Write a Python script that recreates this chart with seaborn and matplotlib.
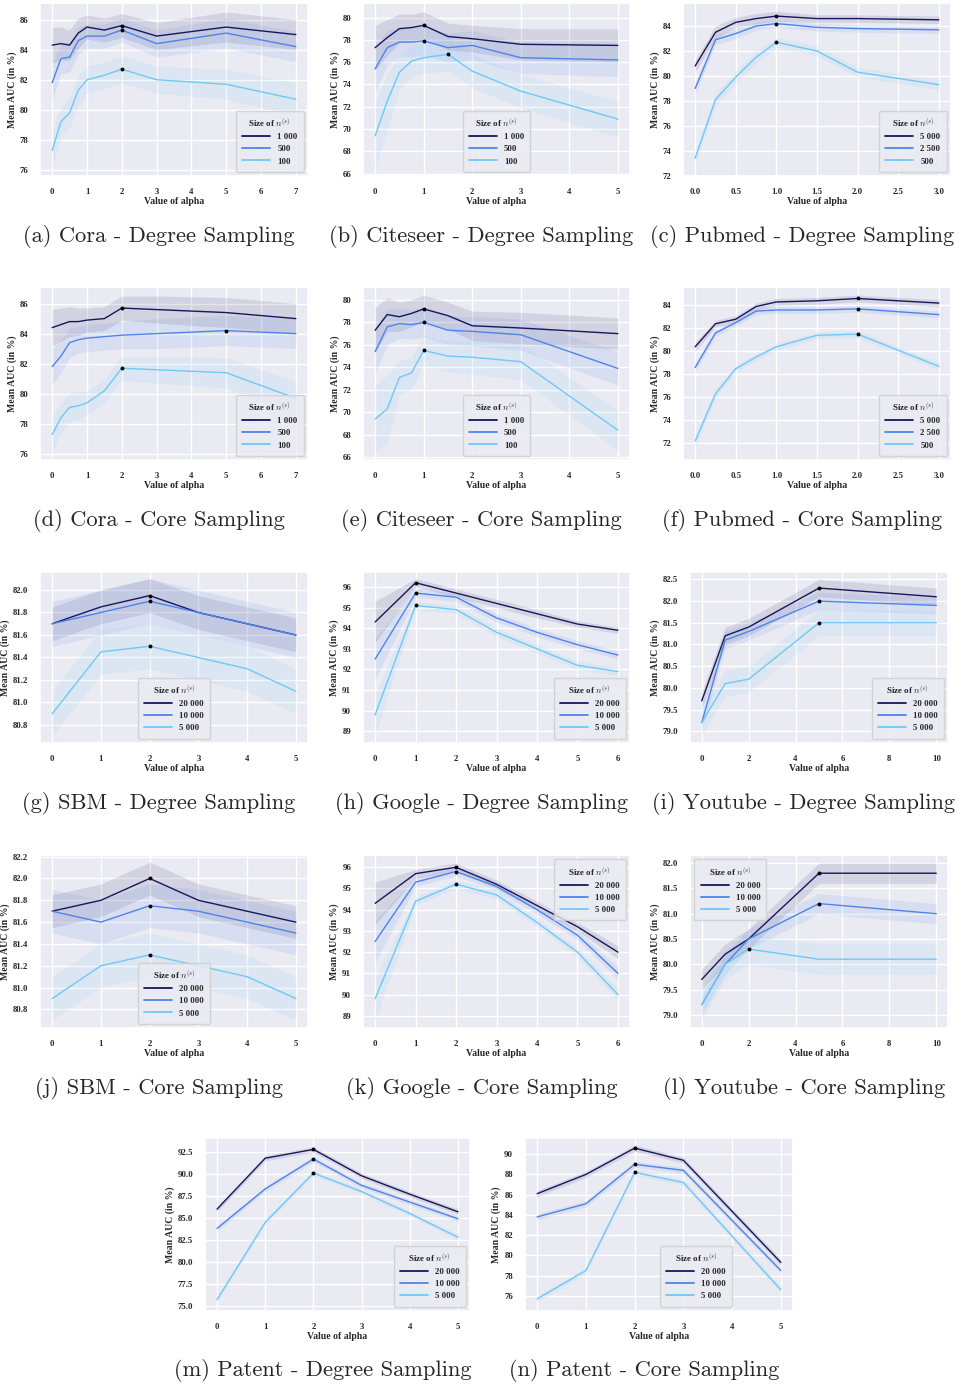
import matplotlib
matplotlib.use('Agg')
from matplotlib import pyplot as plt
from matplotlib.ticker import MultipleLocator, FormatStrFormatter
import seaborn as sns
import pandas as pd

# --- data ---------------------------------------------------------------
sizes_small = ['1 000', '500', '100']
sizes_pubmed = ['5 000', '2 500', '500']
sizes_large = ['20 000', '10 000', '5 000']

cora_alpha = [0, 0.25, 0.5, 0.75, 1, 1.5, 2, 3, 5, 7]
citeseer_alpha = [0, 0.25, 0.5, 0.75, 1, 1.5, 2, 3, 5]
pubmed_alpha = [0, 0.25, 0.5, 0.75, 1, 1.5, 2, 3]
sbm_alpha = [0, 1, 2, 3, 4, 5]
google_alpha = [0, 1, 2, 3, 4, 5, 6]
youtube_alpha = [0, 1, 2, 5, 10]
patent_deg_alpha = [0, 1, 2, 3, 4, 5]
patent_core_alpha = [0, 1, 2, 3, 5]

cora_deg_auc = [[84.3, 84.4, 84.3, 85.1, 85.5, 85.3, 85.6, 84.9, 85.5, 85.0],
                [81.8, 83.4, 83.5, 84.6, 84.9, 84.9, 85.3, 84.4, 85.1, 84.2],
                [77.3, 79.2, 79.8, 81.3, 82.0, 82.3, 82.7, 82.0, 81.7, 80.7]]
cora_deg_band = [[1.2, 1.1, 1.0, 1.0, 0.8, 0.8, 0.8, 0.9, 1.0, 1.0],
                 [1.2, 1.0, 1.0, 0.9, 0.8, 0.8, 0.8, 0.9, 1.0, 1.0],
                 [1.2, 1.0, 1.0, 1.0, 0.9, 0.9, 0.9, 0.9, 1.0, 1.1]]

citeseer_deg_auc = [[77.3, 78.2, 79.0, 79.1, 79.3, 78.3, 78.1, 77.6, 77.5],
                    [75.4, 77.3, 77.8, 77.8, 77.9, 77.3, 77.5, 76.4, 76.2],
                    [69.4, 72.5, 75.1, 76.1, 76.4, 76.7, 75.2, 73.4, 70.9]]
citeseer_deg_band = [[2.0, 1.6, 1.3, 1.2, 1.2, 1.2, 1.2, 1.4, 1.5],
                     [2.0, 1.6, 1.3, 1.3, 1.3, 1.3, 1.3, 1.4, 1.5],
                     [3.0, 2.5, 1.5, 1.4, 1.4, 1.5, 1.5, 1.5, 1.6]]

pubmed_deg_auc = [[80.8, 83.5, 84.3, 84.6, 84.8, 84.6, 84.6, 84.5],
                  [79.0, 82.9, 83.4, 84.0, 84.2, 83.9, 83.8, 83.7],
                  [73.4, 78.1, 79.9, 81.5, 82.7, 82.0, 80.3, 79.3]]
pubmed_deg_band = [[0.5, 0.5, 0.4, 0.4, 0.4, 0.3, 0.3, 0.3],
                   [0.5, 0.4, 0.4, 0.3, 0.3, 0.3, 0.3, 0.3],
                   [0.5, 0.5, 0.5, 0.5, 0.4, 0.4, 0.4, 0.4]]

cora_core_auc = [[84.4, 84.6, 84.8, 84.8, 84.9, 85.0, 85.7, 85.6, 85.4, 85.0],
                 [81.8, 82.5, 83.4, 83.6, 83.7, 83.8, 83.9, 84.0, 84.2, 84.0],
                 [77.3, 78.4, 79.1, 79.2, 79.4, 80.2, 81.7, 81.6, 81.4, 79.7]]
cora_core_band = [[1.2, 1.1, 1.0, 0.9, 0.8, 0.8, 0.8, 0.9, 1.0, 1.0],
                  [1.2, 1.1, 1.0, 0.9, 0.9, 0.9, 0.9, 1.0, 1.0, 1.0],
                  [1.2, 1.0, 1.0, 0.9, 0.8, 0.8, 0.8, 0.9, 1.0, 1.1]]

citeseer_core_auc = [[77.3, 78.7, 78.5, 78.8, 79.2, 78.6, 77.7, 77.5, 77.0],
                     [75.4, 77.6, 77.9, 77.8, 78.0, 77.3, 77.2, 76.9, 73.9],
                     [69.4, 70.3, 73.1, 73.5, 75.5, 75.0, 74.9, 74.5, 68.4]]
citeseer_core_band = [[2.0, 1.5, 1.3, 1.2, 1.2, 1.2, 1.3, 1.4, 1.4],
                      [2.0, 1.6, 1.3, 1.3, 1.3, 1.3, 1.3, 1.4, 1.5],
                      [3.0, 3.0, 1.5, 1.4, 1.3, 1.4, 1.5, 1.6, 1.8]]

pubmed_core_auc = [[80.4, 82.4, 82.8, 83.9, 84.3, 84.4, 84.6, 84.2],
                   [78.6, 81.6, 82.5, 83.5, 83.6, 83.6, 83.7, 83.2],
                   [72.2, 76.3, 78.5, 79.5, 80.4, 81.4, 81.5, 78.7]]
pubmed_core_band = [[0.4, 0.3, 0.3, 0.3, 0.3, 0.3, 0.3, 0.3],
                    [0.4, 0.3, 0.3, 0.3, 0.3, 0.3, 0.3, 0.3],
                    [0.6, 0.4, 0.3, 0.3, 0.3, 0.3, 0.3, 0.3]]

sbm_deg_auc = [[81.7, 81.85, 81.95, 81.8, 81.7, 81.6],
               [81.7, 81.8, 81.9, 81.8, 81.7, 81.6],
               [80.9, 81.45, 81.5, 81.4, 81.3, 81.1]]
sbm_deg_band = [[0.15, 0.15, 0.15, 0.15, 0.15, 0.15],
                [0.2, 0.2, 0.2, 0.2, 0.2, 0.2],
                [0.2, 0.2, 0.2, 0.2, 0.2, 0.2]]

google_deg_auc = [[94.3, 96.2, 95.7, 95.2, 94.7, 94.2, 93.9],
                  [92.5, 95.7, 95.5, 94.5, 93.8, 93.2, 92.7],
                  [89.8, 95.1, 94.9, 93.8, 93.0, 92.2, 91.9]]
google_deg_band = [[1.0, 0.2, 0.2, 0.2, 0.2, 0.15, 0.15],
                   [1.0, 0.2, 0.2, 0.2, 0.2, 0.2, 0.2],
                   [1.0, 0.2, 0.2, 0.2, 0.2, 0.2, 0.2]]

youtube_deg_auc = [[79.7, 81.2, 81.4, 82.3, 82.1],
                   [79.2, 81.1, 81.3, 82.0, 81.9],
                   [79.2, 80.1, 80.2, 81.5, 81.5]]
youtube_deg_band = [[0.2, 0.2, 0.2, 0.2, 0.2],
                    [0.2, 0.2, 0.2, 0.2, 0.2],
                    [0.3, 0.3, 0.3, 0.3, 0.3]]

sbm_core_auc = [[81.7, 81.8, 82.0, 81.8, 81.7, 81.6],
                [81.7, 81.6, 81.75, 81.7, 81.6, 81.5],
                [80.9, 81.2, 81.3, 81.2, 81.1, 80.9]]
sbm_core_band = [[0.15, 0.15, 0.15, 0.15, 0.15, 0.15],
                 [0.2, 0.2, 0.2, 0.2, 0.2, 0.2],
                 [0.2, 0.2, 0.2, 0.2, 0.2, 0.2]]

google_core_auc = [[94.3, 95.7, 96.0, 95.2, 94.2, 93.2, 92.0],
                   [92.5, 95.3, 95.8, 95.1, 94.0, 92.8, 91.0],
                   [89.8, 94.4, 95.2, 94.7, 93.4, 92.0, 90.0]]
google_core_band = [[1.0, 0.2, 0.2, 0.2, 0.2, 0.2, 0.3],
                    [1.0, 0.2, 0.2, 0.2, 0.2, 0.2, 0.3],
                    [1.0, 0.2, 0.2, 0.2, 0.2, 0.2, 0.3]]

youtube_core_auc = [[79.7, 80.2, 80.5, 81.8, 81.8],
                    [79.2, 80.0, 80.5, 81.2, 81.0],
                    [79.2, 80.0, 80.3, 80.1, 80.1]]
youtube_core_band = [[0.2, 0.2, 0.2, 0.2, 0.2],
                     [0.2, 0.2, 0.2, 0.2, 0.2],
                     [0.3, 0.3, 0.3, 0.3, 0.3]]

patent_deg_auc = [[86.0, 91.8, 92.8, 89.8, 87.7, 85.7],
                  [83.8, 88.3, 91.7, 88.7, 86.8, 84.9],
                  [75.7, 84.5, 90.1, 88.0, 85.5, 82.8]]
patent_deg_band = [[0.3] * 6, [0.3] * 6, [0.3] * 6]

patent_core_auc = [[86.1, 88.0, 90.6, 89.4, 79.3],
                   [83.8, 85.1, 89.0, 88.4, 78.5],
                   [75.7, 78.5, 88.2, 87.2, 76.6]]
patent_core_band = [[0.3] * 5, [0.3] * 5, [0.3] * 5]

captions = ['(a) Cora - Degree Sampling', '(b) Citeseer - Degree Sampling',
            '(c) Pubmed - Degree Sampling', '(d) Cora - Core Sampling',
            '(e) Citeseer - Core Sampling', '(f) Pubmed - Core Sampling',
            '(g) SBM - Degree Sampling', '(h) Google - Degree Sampling',
            '(i) Youtube - Degree Sampling', '(j) SBM - Core Sampling',
            '(k) Google - Core Sampling', '(l) Youtube - Core Sampling',
            '(m) Patent - Degree Sampling', '(n) Patent - Core Sampling']

# --- styling ----------------------------------------------------------------
sns.set_theme(style='darkgrid')
plt.rcParams['font.family'] = ['Liberation Serif', 'DejaVu Serif']
plt.rcParams['font.weight'] = 'bold'
plt.rcParams['mathtext.fontset'] = 'cm'
palette = ['#17175e', '#4f83ea', '#6fc8f6']

W, H = 959, 1386
fig = plt.figure(figsize=(W / 100, H / 100), dpi=100)


def box(x0, x1, y0, y1):
    return [x0 / W, 1 - y1 / H, (x1 - x0) / W, (y1 - y0) / H]


# (alpha, auc, band, sizes, axes box, ylim, ystep, xstep, yfmt, legend loc, legend anchor)
panels = [
    (cora_alpha, cora_deg_auc, cora_deg_band, sizes_small, box(40, 308, 3, 176), (75.6, 87.1), 2, 1, '%d', 'lower right', None),
    (citeseer_alpha, citeseer_deg_auc, citeseer_deg_band, sizes_small, box(363, 630, 3, 176), (65.8, 81.3), 2, 1, '%d', 'lower center', None),
    (pubmed_alpha, pubmed_deg_auc, pubmed_deg_band, sizes_pubmed, box(683, 951, 3, 176), (71.97, 85.85), 2, 0.5, '%d', 'lower right', None),
    (cora_alpha, cora_core_auc, cora_core_band, sizes_small, box(40, 308, 287, 460), (75.6, 87.1), 2, 1, '%d', 'lower right', None),
    (citeseer_alpha, citeseer_core_auc, citeseer_core_band, sizes_small, box(363, 630, 287, 460), (65.75, 81.15), 2, 1, '%d', 'lower center', None),
    (pubmed_alpha, pubmed_core_auc, pubmed_core_band, sizes_pubmed, box(683, 951, 287, 460), (70.55, 85.6), 2, 0.5, '%d', 'lower right', None),
    (sbm_alpha, sbm_deg_auc, sbm_deg_band, sizes_large, box(40, 308, 572, 743), (80.64, 82.16), 0.2, 1, '%.1f', 'lower center', None),
    (google_alpha, google_deg_auc, google_deg_band, sizes_large, box(363, 630, 572, 743), (88.44, 96.72), 1, 1, '%d', 'lower right', None),
    (youtube_alpha, youtube_deg_auc, youtube_deg_band, sizes_large, box(690, 948, 572, 743), (78.73, 82.67), 0.5, 2, '%.1f', 'lower right', None),
    (sbm_alpha, sbm_core_auc, sbm_core_band, sizes_large, box(40, 308, 855, 1028), (80.63, 82.215), 0.2, 1, '%.1f', 'lower center', None),
    (google_alpha, google_core_auc, google_core_band, sizes_large, box(363, 630, 855, 1028), (88.42, 96.58), 1, 1, '%d', 'upper right', None),
    (youtube_alpha, youtube_core_auc, youtube_core_band, sizes_large, box(690, 948, 855, 1028), (78.74, 82.16), 0.5, 2, '%.1f', 'upper left', None),
    (patent_deg_alpha, patent_deg_auc, patent_deg_band, sizes_large, box(205, 470, 1138, 1311), (74.4, 94.1), 2.5, 1, '%.1f', 'lower right', None),
    (patent_core_alpha, patent_core_auc, patent_core_band, sizes_large, box(525, 793, 1138, 1311), (74.5, 91.6), 2, 1, '%d', 'lower right', (0.79, 0.0)),
]

for i, (alpha, auc, band, sizes, rect, ylim, ystep, xstep, yfmt, loc, anchor) in enumerate(panels):
    ax = fig.add_axes(rect)
    df = pd.concat([pd.DataFrame({'alpha': alpha, 'auc': auc[k], 'band': band[k], 'size': sizes[k]})
                    for k in range(3)], ignore_index=True)
    sns.lineplot(data=df, x='alpha', y='auc', hue='size', hue_order=sizes,
                 palette=palette, linewidth=1.0, errorbar=None, ax=ax)
    for k, s in enumerate(sizes):
        sub = df[df['size'] == s]
        ax.fill_between(sub['alpha'], sub['auc'] - sub['band'], sub['auc'] + sub['band'],
                        color=palette[k], alpha=0.11, linewidth=0)
        best = sub.loc[sub['auc'].idxmax()]
        ax.scatter([best['alpha']], [best['auc']], color='black', s=8, zorder=5, linewidths=0)

    ax.set_ylim(*ylim)
    ax.yaxis.set_major_locator(MultipleLocator(ystep))
    ax.yaxis.set_major_formatter(FormatStrFormatter(yfmt))
    ax.xaxis.set_major_locator(MultipleLocator(xstep))
    if xstep == 0.5:
        ax.xaxis.set_major_formatter(FormatStrFormatter('%.1f'))
    else:
        ax.xaxis.set_major_formatter(FormatStrFormatter('%d'))
    ax.tick_params(labelsize=6.3, pad=2.5)
    for lab in ax.get_xticklabels() + ax.get_yticklabels():
        lab.set_fontweight('bold')
    ax.set_xlabel('Value of alpha', fontsize=7, fontweight='bold', labelpad=1)
    ax.set_ylabel('Mean AUC (in %)', fontsize=7, fontweight='bold', labelpad=2)

    kw = {} if anchor is None else {'bbox_to_anchor': anchor}
    leg = ax.legend(title='Size of $n^{(s)}$', loc=loc, title_fontsize=6.5,
                    prop={'weight': 'bold', 'size': 6.3}, handlelength=3.2, borderpad=0.7,
                    labelspacing=0.45, handletextpad=0.8, frameon=True, **kw)
    leg.get_title().set_fontweight('bold')
    for h in leg.get_lines():
        h.set_linewidth(1.3)

    x0 = (rect[0] + rect[2] / 2) * W - 15
    y_cap = (1 - rect[1]) * H + 60
    fig.text(x0 / W, 1 - y_cap / H, captions[i], fontsize=16.2, fontfamily='cmr10',
             fontweight='normal', ha='center', va='center')

fig.savefig('out.png', dpi=100)
